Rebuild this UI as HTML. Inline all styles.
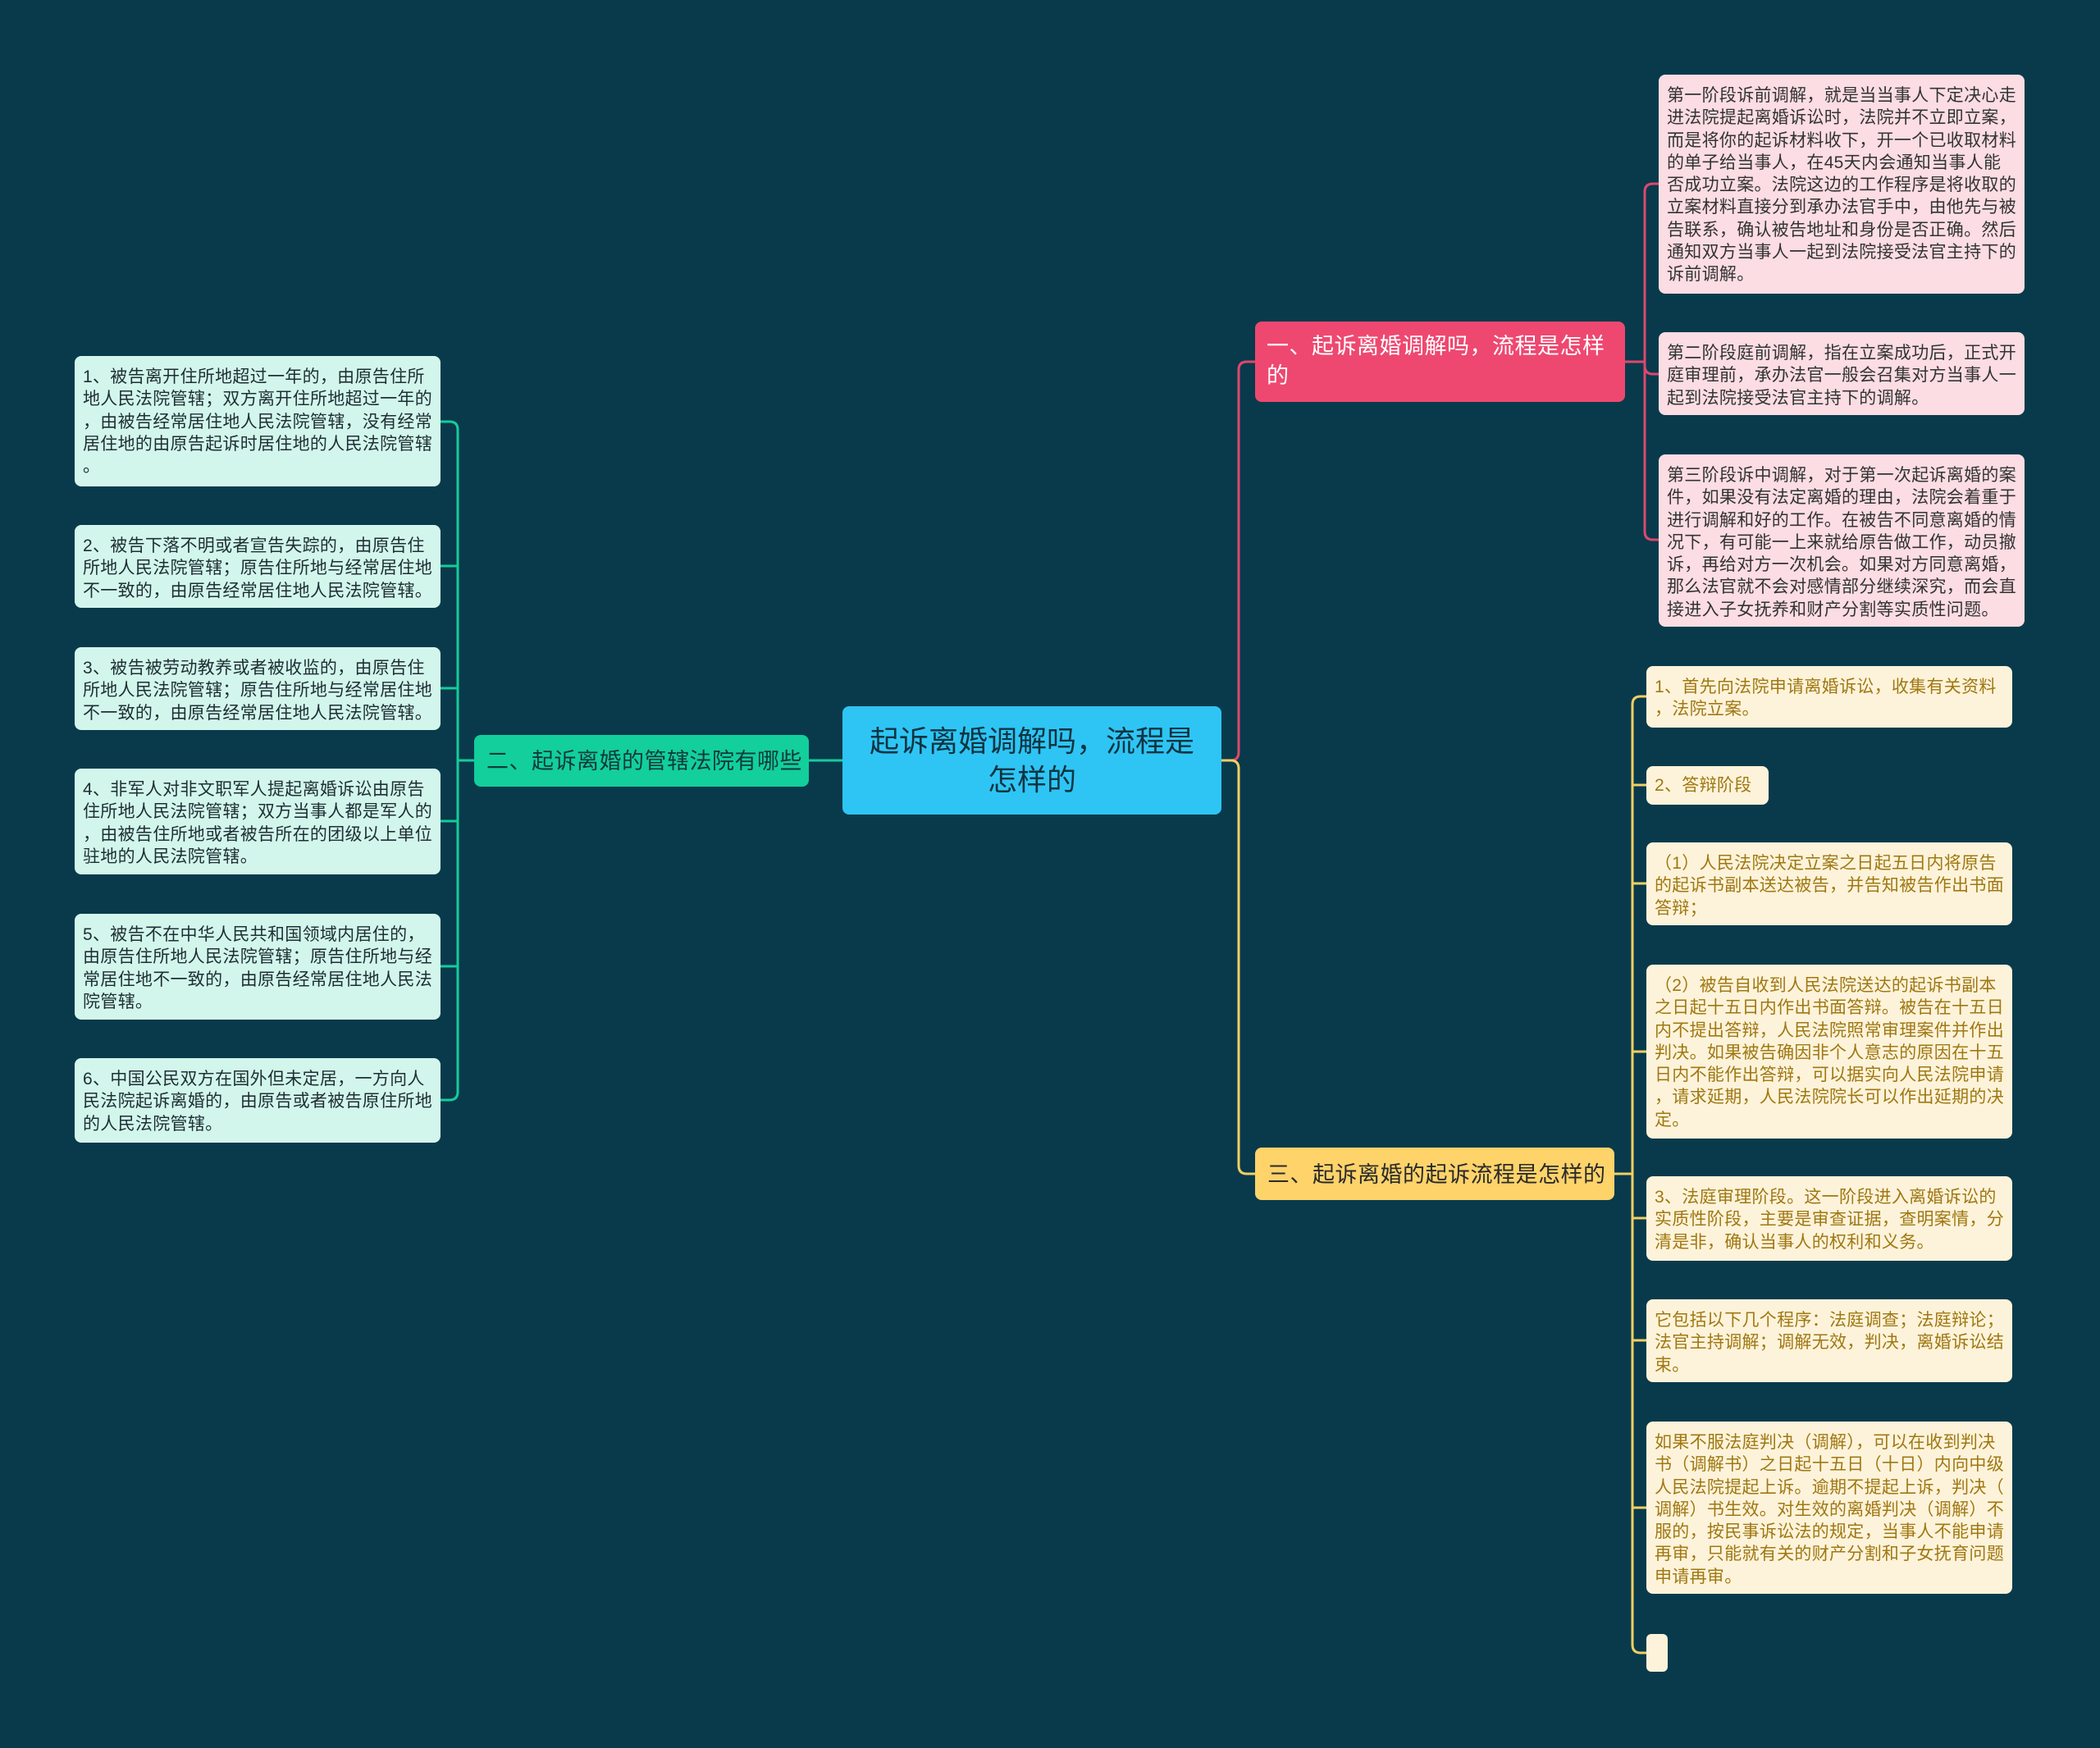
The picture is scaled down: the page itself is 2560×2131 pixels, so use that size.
<!DOCTYPE html>
<html><head><meta charset="utf-8"><style>
body{margin:0;width:2560px;height:2131px;background:#083a4c;position:relative;overflow:hidden;font-family:"Liberation Sans","Noto Sans CJK SC",sans-serif}
.n{position:absolute;box-sizing:border-box;border-radius:8px;white-space:nowrap}
.l{font-size:21px;line-height:27.3px;padding:12px 10px 10px;letter-spacing:0.3px}
.p{background:#fbdde3;color:#333}
.g{background:#d3f6ec;color:#1d2f33;text-align:left}
.y{background:#fdf3da;color:#a07812}
svg{position:absolute;left:0;top:0}
</style></head><body>
<svg width="2560" height="2131" fill="none" stroke-width="3">
<path d="M1489,927 H1500 Q1510,927 1510,917 V451 Q1510,441 1520,441 H1530" stroke="#e0476d"/>
<path d="M1489,927 H1500 Q1510,927 1510,937 V1421 Q1510,1431 1520,1431 H1530" stroke="#f2cf62"/>
<path d="M1027,927 H986" stroke="#16cc9a"/>
<path d="M1981,441 H1995 M2005,234 V648 M2022,224 H2015 Q2005,224 2005,234 M2005,446 Q2005,456 2015,456 H2022 M2005,446 V456 M2022,658 H2015 Q2005,658 2005,648 M1995,441 H2005" stroke="#e0476d"/>
<path d="M1968,1431 H1990 M1990,859 V2005 M2007,849 H2000 Q1990,849 1990,859 M2007,2015 H2000 Q1990,2015 1990,2005 M1990,957 H2007 M1990,1077 H2007 M1990,1282 H2007 M1990,1485 H2007 M1990,1634 H2007 M1990,1838 H2007" stroke="#f2cf62"/>
<path d="M578,927 H558 M558,524 V1331 M537,514 H548 Q558,514 558,524 M537,1341 H548 Q558,1341 558,1331 M558,690 H537 M558,839 H537 M558,1001 H537 M558,1178 H537" stroke="#16cc9a"/>
</svg>

<div class="n" style="left:1027px;top:861px;width:462px;height:132px;background:#2ec5f4;color:#0e3442;font-size:36px;line-height:47px;text-align:center;padding-top:19px">起诉离婚调解吗，流程是<br>怎样的</div>

<div class="n" style="left:1530px;top:392px;width:451px;height:98px;background:#ee4870;color:#fff;font-size:27px;line-height:36px;padding:12px 14px;letter-spacing:0.5px">一、起诉离婚调解吗，流程是怎样<br>的</div>
<div class="n" style="left:578px;top:896px;width:408px;height:63px;background:#12cf9c;color:#113a3a;font-size:27px;line-height:65px;padding-left:15px;letter-spacing:0.5px">二、起诉离婚的管辖法院有哪些</div>
<div class="n" style="left:1530px;top:1399px;width:438px;height:64px;background:#fdd36a;color:#2a2a2a;font-size:27px;line-height:66px;padding-left:15px;letter-spacing:0.5px">三、起诉离婚的起诉流程是怎样的</div>

<div class="n l p" style="left:2022px;top:91px;width:446px;height:267px">第一阶段诉前调解，就是当当事人下定决心走<br>进法院提起离婚诉讼时，法院并不立即立案，<br>而是将你的起诉材料收下，开一个已收取材料<br>的单子给当事人，在45天内会通知当事人能<br>否成功立案。法院这边的工作程序是将收取的<br>立案材料直接分到承办法官手中，由他先与被<br>告联系，确认被告地址和身份是否正确。然后<br>通知双方当事人一起到法院接受法官主持下的<br>诉前调解。</div>
<div class="n l p" style="left:2022px;top:405px;width:446px;height:101px">第二阶段庭前调解，指在立案成功后，正式开<br>庭审理前，承办法官一般会召集对方当事人一<br>起到法院接受法官主持下的调解。</div>
<div class="n l p" style="left:2022px;top:554px;width:446px;height:210px">第三阶段诉中调解，对于第一次起诉离婚的案<br>件，如果没有法定离婚的理由，法院会着重于<br>进行调解和好的工作。在被告不同意离婚的情<br>况下，有可能一上来就给原告做工作，动员撤<br>诉，再给对方一次机会。如果对方同意离婚，<br>那么法官就不会对感情部分继续深究，而会直<br>接进入子女抚养和财产分割等实质性问题。</div>

<div class="n l g" style="left:91px;top:434px;width:446px;height:159px"> 1、被告离开住所地超过一年的，由原告住所<br>地人民法院管辖；双方离开住所地超过一年的<br>，由被告经常居住地人民法院管辖，没有经常<br>居住地的由原告起诉时居住地的人民法院管辖<br>。</div>
<div class="n l g" style="left:91px;top:640px;width:446px;height:101px"> 2、被告下落不明或者宣告失踪的，由原告住<br>所地人民法院管辖；原告住所地与经常居住地<br>不一致的，由原告经常居住地人民法院管辖。</div>
<div class="n l g" style="left:91px;top:789px;width:446px;height:101px"> 3、被告被劳动教养或者被收监的，由原告住<br>所地人民法院管辖；原告住所地与经常居住地<br>不一致的，由原告经常居住地人民法院管辖。</div>
<div class="n l g" style="left:91px;top:937px;width:446px;height:129px"> 4、非军人对非文职军人提起离婚诉讼由原告<br>住所地人民法院管辖；双方当事人都是军人的<br>，由被告住所地或者被告所在的团级以上单位<br>驻地的人民法院管辖。</div>
<div class="n l g" style="left:91px;top:1114px;width:446px;height:129px"> 5、被告不在中华人民共和国领域内居住的，<br>由原告住所地人民法院管辖；原告住所地与经<br>常居住地不一致的，由原告经常居住地人民法<br>院管辖。</div>
<div class="n l g" style="left:91px;top:1290px;width:446px;height:103px"> 6、中国公民双方在国外但未定居，一方向人<br>民法院起诉离婚的，由原告或者被告原住所地<br>的人民法院管辖。</div>

<div class="n l y" style="left:2007px;top:812px;width:446px;height:75px"> 1、首先向法院申请离婚诉讼，收集有关资料<br>，法院立案。</div>
<div class="n l y" style="left:2007px;top:934px;width:149px;height:47px;padding-top:10px"> 2、答辩阶段</div>
<div class="n l y" style="left:2007px;top:1027px;width:446px;height:101px"> （1）人民法院决定立案之日起五日内将原告<br>的起诉书副本送达被告，并告知被告作出书面<br>答辩；</div>
<div class="n l y" style="left:2007px;top:1176px;width:446px;height:212px"> （2）被告自收到人民法院送达的起诉书副本<br>之日起十五日内作出书面答辩。被告在十五日<br>内不提出答辩，人民法院照常审理案件并作出<br>判决。如果被告确因非个人意志的原因在十五<br>日内不能作出答辩，可以据实向人民法院申请<br>，请求延期，人民法院院长可以作出延期的决<br>定。</div>
<div class="n l y" style="left:2007px;top:1434px;width:446px;height:103px"> 3、法庭审理阶段。这一阶段进入离婚诉讼的<br>实质性阶段，主要是审查证据，查明案情，分<br>清是非，确认当事人的权利和义务。</div>
<div class="n l y" style="left:2007px;top:1584px;width:446px;height:101px">它包括以下几个程序：法庭调查；法庭辩论；<br>法官主持调解；调解无效，判决，离婚诉讼结<br>束。</div>
<div class="n l y" style="left:2007px;top:1733px;width:446px;height:210px">如果不服法庭判决（调解），可以在收到判决<br>书（调解书）之日起十五日（十日）内向中级<br>人民法院提起上诉。逾期不提起上诉，判决（<br>调解）书生效。对生效的离婚判决（调解）不<br>服的，按民事诉讼法的规定，当事人不能申请<br>再审，只能就有关的财产分割和子女抚育问题<br>申请再审。</div>
<div class="n y" style="left:2007px;top:1992px;width:26px;height:46px;border-radius:6px"></div>
</body></html>
